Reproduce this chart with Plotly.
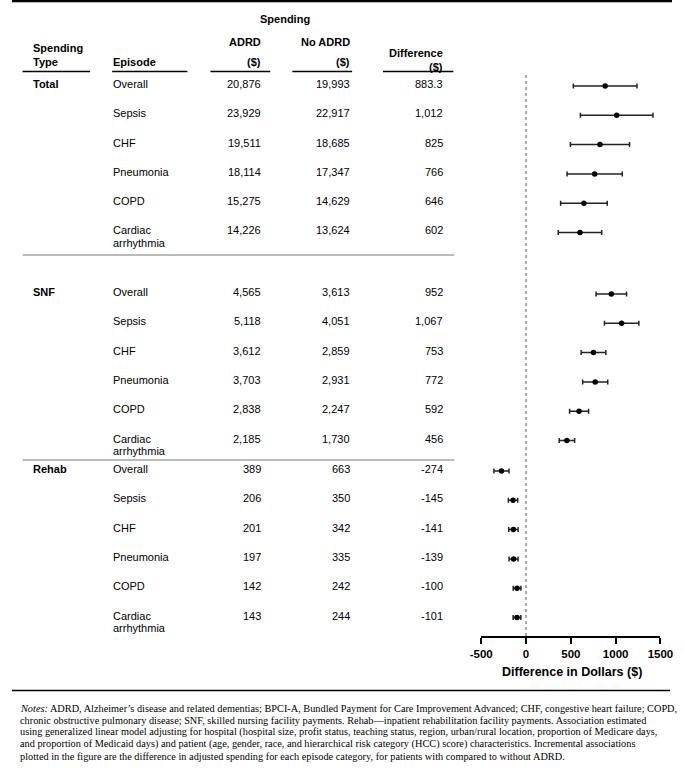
import plotly.graph_objects as go

W, H = 685, 768

# ---------------- data ----------------
groups = ["Total", "SNF", "Rehab"]
episodes = ["Overall", "Sepsis", "CHF", "Pneumonia", "COPD", "Cardiac arrhythmia"]

adrd_total = [20876, 23929, 19511, 18114, 15275, 14226]
noadrd_total = [19993, 22917, 18685, 17347, 14629, 13624]
diff_total = [883.3, 1012, 825, 766, 646, 602]
low_total = [528, 607, 495, 458, 386, 360]
high_total = [1238, 1417, 1155, 1074, 906, 844]

adrd_snf = [4565, 5118, 3612, 3703, 2838, 2185]
noadrd_snf = [3613, 4051, 2859, 2931, 2247, 1730]
diff_snf = [952, 1067, 753, 772, 592, 456]
low_snf = [782, 875, 615, 632, 486, 370]
high_snf = [1122, 1259, 891, 912, 698, 542]

adrd_rehab = [389, 206, 201, 197, 142, 143]
noadrd_rehab = [663, 350, 342, 335, 242, 244]
diff_rehab = [-274, -145, -141, -139, -100, -101]
low_rehab = [-358, -197, -193, -189, -143, -144]
high_rehab = [-190, -93, -89, -89, -57, -58]

x_ticks = [-500, 0, 500, 1000, 1500]

notes_lines = [
    "<i>Notes:</i> ADRD, Alzheimer’s disease and related dementias; BPCI-A, Bundled Payment for Care Improvement Advanced; CHF, congestive heart failure; COPD,",
    "chronic obstructive pulmonary disease; SNF, skilled nursing facility payments. Rehab—inpatient rehabilitation facility payments. Association estimated",
    "using generalized linear model adjusting for hospital (hospital size, profit status, teaching status, region, urban/rural location, proportion of Medicare days,",
    "and proportion of Medicaid days) and patient (age, gender, race, and hierarchical risk category (HCC) score) characteristics. Incremental associations",
    "plotted in the figure are the difference in adjusted spending for each episode category, for patients with compared to without ADRD.",
]

# ---------------- layout helpers ----------------
def px(x):
    return x / W

def py(y):
    return 1 - y / H

group_top = [86.0, 294.0, 471.0]
pitch = 29.3
AXIS_Y = 636.0

adrd_all = [adrd_total, adrd_snf, adrd_rehab]
noadrd_all = [noadrd_total, noadrd_snf, noadrd_rehab]
diff_all = [diff_total, diff_snf, diff_rehab]
low_all = [low_total, low_snf, low_rehab]
high_all = [high_total, high_snf, high_rehab]

SANS = "Liberation Sans, Arial, Helvetica, sans-serif"
SERIF = "Liberation Serif, Times New Roman, serif"
FS = 11

fig = go.Figure()
annotations = []
shapes = []

def txt(x, y, s, anchor="left", bold=False, size=FS, family=SANS):
    annotations.append(dict(
        x=px(x), y=py(y), xref="paper", yref="paper", text=s, showarrow=False,
        xanchor=anchor, yanchor="middle", borderpad=0,
        font=dict(family=family, size=size, color="#000", weight="bold" if bold else "normal"),
    ))

def hline(x0, x1, y, color="#000", width=1.5):
    shapes.append(dict(type="line", xref="paper", yref="paper",
                       x0=px(x0), x1=px(x1), y0=py(y), y1=py(y),
                       line=dict(color=color, width=width)))

COL_TYPE, COL_EP, COL_ADRD, COL_NO, COL_DIFF = 20.5, 104, 259, 352, 448

# header
hline(0, W, 1, width=2.5)
txt(283, 19, "Spending", anchor="center", bold=True)
txt(COL_TYPE, 47.5, "Spending", bold=True)
txt(COL_TYPE, 61.5, "Type", bold=True)
txt(COL_EP, 61.5, "Episode", bold=True)
txt(COL_ADRD, 42.5, "ADRD", anchor="right", bold=True)
txt(COL_ADRD, 61.5, "($)", anchor="right", bold=True)
txt(COL_NO, 42.5, "No ADRD", anchor="right", bold=True)
txt(COL_NO, 61.5, "($)", anchor="right", bold=True)
txt(COL_DIFF, 53, "Difference", anchor="right", bold=True)
txt(COL_DIFF, 67, "($)", anchor="right", bold=True)
for a, b in [(11, 81), (104, 182), (206, 268), (291, 353), (385, 458)]:
    hline(a, b, 71.5, width=1.3)

# table body + forest data
ys, xs, lo, hi = [], [], [], []
for g, name in enumerate(groups):
    for i, ep in enumerate(episodes):
        y = group_top[g] + i * pitch
        ty = y - 2.0
        if i == 0:
            txt(COL_TYPE, ty, name, bold=True)
        if ep.startswith("Cardiac"):
            a, b = ep.split(" ", 1)
            txt(COL_EP, ty, a)
            txt(COL_EP, ty + 12.5, b)
        else:
            txt(COL_EP, ty, ep)
        txt(COL_ADRD, ty, f"{adrd_all[g][i]:,}", anchor="right")
        txt(COL_NO, ty, f"{noadrd_all[g][i]:,}", anchor="right")
        txt(COL_DIFF, ty, f"{diff_all[g][i]:,}", anchor="right")
        ys.append(y)
        xs.append(diff_all[g][i])
        lo.append(diff_all[g][i] - low_all[g][i])
        hi.append(high_all[g][i] - diff_all[g][i])

hline(11, 459, 255, color="#bbbbbb", width=2)
hline(11, 459, 460, color="#bbbbbb", width=2)
hline(0, 683, 690.5, width=1.5)

fig.add_trace(go.Scatter(
    x=xs, y=ys, mode="markers",
    marker=dict(symbol="circle", size=5.5, color="#000"),
    error_x=dict(type="data", symmetric=False, array=hi, arrayminus=lo,
                 color="#222", thickness=1.5, width=2.5),
    showlegend=False, hoverinfo="x",
))

# dotted reference line at 0
shapes.append(dict(type="line", xref="x", yref="y", x0=0, x1=0, y0=75, y1=AXIS_Y,
                   line=dict(color="#555", width=1, dash="dot")))

# axis title
txt(581, 671.5, "Difference in Dollars ($)", anchor="center", bold=True, size=12.5)

# notes
for k, line in enumerate(notes_lines):
    annotations.append(dict(
        x=px(7), y=py(708 + 12 * k), xref="paper", yref="paper", text=line,
        showarrow=False, xanchor="left", yanchor="middle", align="left", borderpad=0,
        font=dict(family=SERIF, size=10.3, color="#000"),
    ))

fig.update_layout(
    width=W, height=H, autosize=False,
    margin=dict(l=0, r=0, t=0, b=0),
    paper_bgcolor="white", plot_bgcolor="white",
    xaxis=dict(domain=[487 / W, 673 / W], range=[-500, 1500],
               tickvals=x_ticks, ticktext=[str(t) for t in x_ticks],
               showline=True, linecolor="#000", linewidth=2,
               ticks="outside", ticklen=6, tickwidth=2, tickcolor="#000",
               tickfont=dict(family=SANS, size=11.5, color="#000", weight="bold"),
               ticklabeloverflow="allow",
               showgrid=False, zeroline=False, fixedrange=True),
    yaxis=dict(domain=[1 - AXIS_Y / H, 1], range=[AXIS_Y, 0], visible=False,
               showgrid=False, zeroline=False, fixedrange=True),
    annotations=annotations,
    shapes=shapes,
)

fig.write_html(
    "out.html",
    config={"displayModeBar": False},
    post_script="document.body.style.margin='0';document.body.style.overflow='hidden';",
)
